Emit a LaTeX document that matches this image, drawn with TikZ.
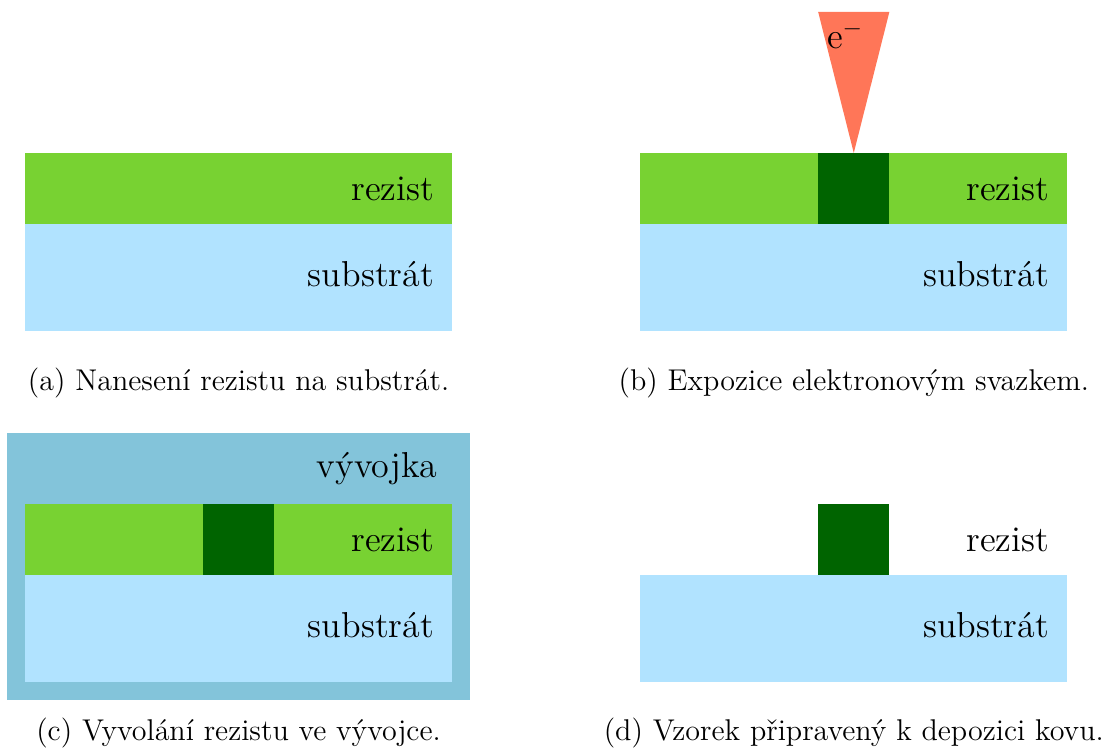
\documentclass[tikz,border=0pt]{standalone}
\usepackage{fontspec}
\usepackage{xcolor}

\definecolor{rezistc}{RGB}{120,210,50}
\definecolor{exponc}{RGB}{0,100,0}
\definecolor{substc}{RGB}{177,227,255}
\definecolor{vyvojc}{RGB}{131,196,218}
\definecolor{beamc}{RGB}{255,118,88}

\begin{document}
\begin{tikzpicture}[
	subst/.style={fill=substc},
	rez/.style={fill=rezistc},
	expo/.style={fill=exponc},
	dev/.style={fill=vyvojc},
	beam/.style={fill=beamc},
	lbl/.style={font=\Large, anchor=east, inner sep=0pt},
	captxt/.style={font=\large},
	]
	\def\dx{8.64}
	\def\dy{4.93}
	\useasboundingbox (0,0) rectangle (15.49,10.548);

	% (a)
	\begin{scope}[shift={(0.35,0.97+\dy)}]
		\fill[subst] (0,0) rectangle (6,1.5);
		\fill[rez] (0,1.5) rectangle (6,2.5);
		\node[lbl] (rezA) at (5.75,2) {rezist};
		\node[lbl] (subA) at (5.75,0.8) {substrát};
		\node[captxt] (capA) at (3,-0.73) {(a) Nanesení rezistu na substrát.};
	\end{scope}

	% (b)
	\begin{scope}[shift={(0.35+\dx,0.97+\dy)}]
		\fill[subst] (0,0) rectangle (6,1.5);
		\fill[rez] (0,1.5) rectangle (6,2.5);
		\fill[expo] (2.5,1.5) rectangle (3.5,2.5);
		\fill[beam] (2.5,4.48) -- (3.5,4.48) -- (3,2.5) -- cycle;
		\node[font=\Large, anchor=north west] (elB) at (2.5,4.48) {e$^-$};
		\node[lbl] (rezB) at (5.75,2) {rezist};
		\node[lbl] (subB) at (5.75,0.8) {substrát};
		\node[captxt] (capB) at (3,-0.73) {(b) Expozice elektronovým svazkem.};
	\end{scope}

	% (c)
	\begin{scope}[shift={(0.35,0.97)}]
		\fill[dev] (-0.25,-0.25) rectangle (6.25,3.5);
		\fill[subst] (0,0) rectangle (6,1.5);
		\fill[rez] (0,1.5) rectangle (6,2.5);
		\fill[expo] (2.5,1.5) rectangle (3.5,2.5);
		\node[lbl] (devC) at (5.8,3) {vývojka};
		\node[lbl] (rezC) at (5.75,2) {rezist};
		\node[lbl] (subC) at (5.75,0.8) {substrát};
		\node[captxt] (capC) at (3,-0.72) {(c) Vyvolání rezistu ve vývojce.};
	\end{scope}

	% (d)
	\begin{scope}[shift={(0.35+\dx,0.97)}]
		\fill[subst] (0,0) rectangle (6,1.5);
		\fill[expo] (2.5,1.5) rectangle (3.5,2.5);
		\node[lbl] (rezD) at (5.75,2) {rezist};
		\node[lbl] (subD) at (5.75,0.8) {substrát};
		\node[captxt] (capD) at (3,-0.72) {(d) Vzorek připravený k depozici kovu.};
	\end{scope}
\end{tikzpicture}
\end{document}
